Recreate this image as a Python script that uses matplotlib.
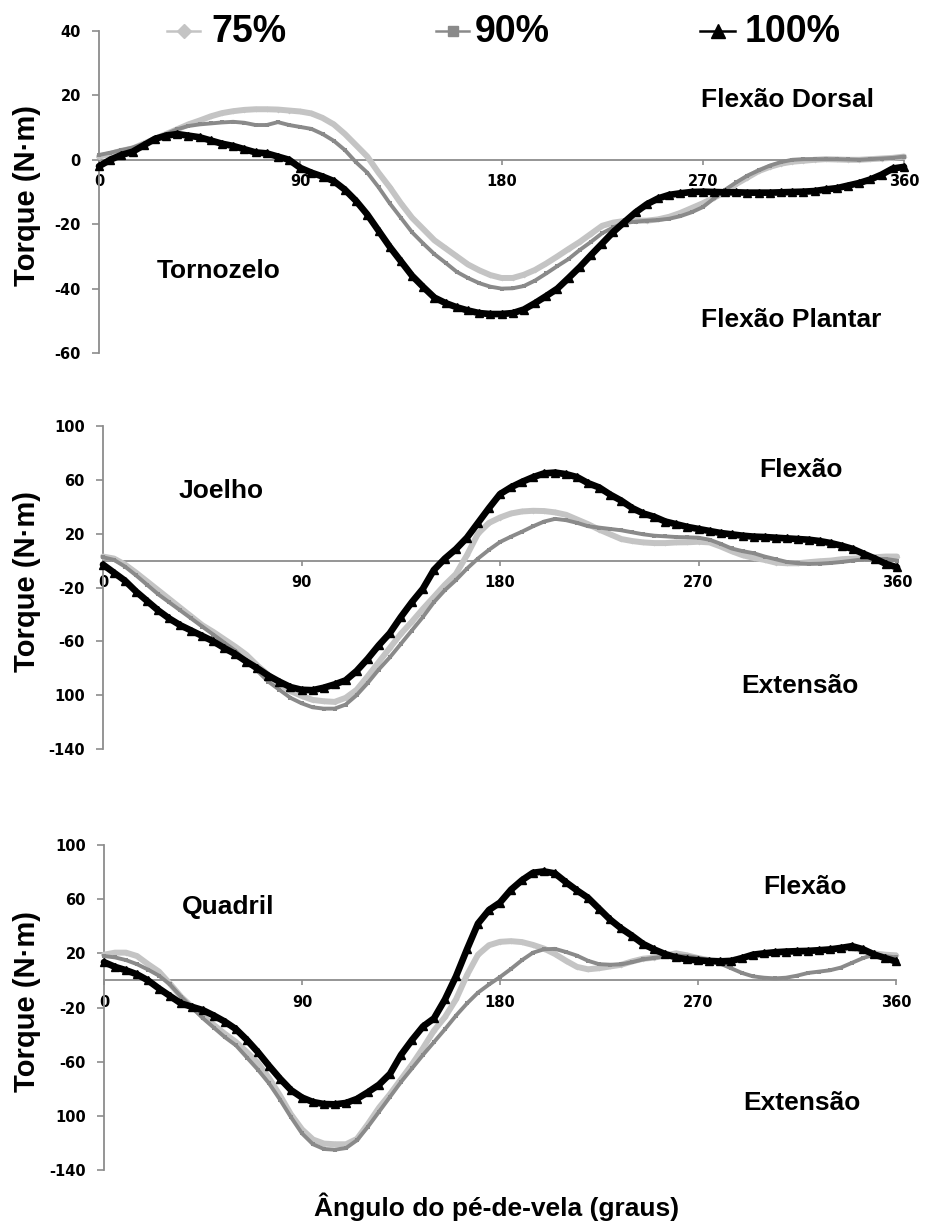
import numpy as np
import matplotlib
matplotlib.use("Agg")
import matplotlib.pyplot as plt
from matplotlib.ticker import FixedLocator, FixedFormatter

# Crank angle (degrees), sampled every 5 degrees
crank_angle = np.arange(0, 361, 5)

series_labels = ["75%", "90%", "100%"]

# Ankle joint torque (N·m)
ankle_75 = [1, 1.8, 2.8, 3.5, 5, 6.5, 8, 9.5, 11, 12.2,
            13.5, 14.5, 15.1, 15.5, 15.7, 15.7, 15.6, 15.3, 15, 14.4,
            13, 11, 8, 4.5, 1, -4, -8.5, -13.5, -18, -21.5,
            -25, -27.5, -30, -32.5, -34.3, -35.8, -36.7, -36.7, -35.7, -34.2,
            -32.2, -30, -27.7, -25.5, -23, -20.5, -19.5, -19, -18.9, -18.9,
            -18.5, -17.7, -16.5, -15, -13.5, -11.8, -10, -7.5, -5.5, -3.5,
            -2.2, -1.2, -0.6, -0.3, 0, 0.2, 0.1, 0, 0, 0.2,
            0.4, 0.6, 1]
ankle_90 = [1.5, 2.2, 3, 3.8, 5, 6.5, 8, 9.5, 10.5, 11,
            11.3, 11.6, 11.8, 11.5, 10.8, 10.8, 11.7, 10.8, 10.2, 9.6,
            8, 5.9, 3, -0.8, -4, -8.5, -13.5, -18, -22.5, -26,
            -29.3, -32, -34.8, -36.7, -38.3, -39.4, -40, -39.9, -39.2, -37.5,
            -35.3, -33, -30.8, -28, -25.5, -22.8, -21, -19.6, -19.2, -18.9,
            -18.7, -18.3, -17.5, -16.3, -14.7, -12, -9.3, -7, -4.9, -3.3,
            -1.8, -0.7, 0, 0.2, 0.2, 0.2, 0.2, 0.1, 0, 0.2,
            0.4, 0.6, 1]
ankle_100 = [-2, 0, 1.5, 2.5, 4.5, 6.5, 7.5, 8, 7.5, 7,
             6, 5, 4.3, 3.3, 2.3, 2, 1, 0, -2.5, -4,
             -5.2, -6.6, -9.3, -12.8, -17, -22, -27, -31.5, -36, -39.5,
             -42.8, -44.5, -45.8, -46.8, -47.6, -47.9, -47.9, -47.6, -46.5, -44.5,
             -42.3, -40, -36.7, -33.3, -29.6, -26, -22.4, -19.3, -16.3, -13.8,
             -12, -10.9, -10.4, -10, -9.9, -10, -10.1, -10.1, -10.2, -10.2,
             -10.2, -10.1, -10, -9.9, -9.7, -9.2, -8.8, -8, -7.2, -6.1,
             -4.6, -2.7, -2.2]

# Knee joint torque (N·m)
knee_75 = [3, 1.5, -3, -9, -15.5, -22, -28.5, -35, -41.5, -48,
           -53, -58.5, -64, -70, -78, -85, -91.5, -97, -100.5, -103.5,
           -104.5, -105, -102, -96, -86, -75.5, -65, -54.5, -45.5, -36,
           -27, -18, -10, 4, 20, 28, 32, 35, 36.5, 37,
           36.8, 35.8, 34, 30.5, 27, 23, 19.5, 16, 14.5, 13.5,
           13, 13, 13.5, 13.6, 14, 13.5, 10.5, 7, 4, 2,
           0.5, -1.5, -2, -2, -1.2, -0.5, 0, 1, 1.5, 2,
           2.5, 3, 3]
knee_90 = [2.5, 0.5, -4.5, -11, -18, -25, -31, -37, -43, -49,
           -55, -61, -67, -75, -82, -90, -96, -102, -106, -109,
           -110, -110, -107, -100, -91, -81, -72, -62, -52, -42,
           -31, -22, -14.5, -6, 1.5, 8, 13.8, 17.8, 21.5, 25.5,
           29, 31, 30, 28, 25.5, 24.5, 23.5, 22.5, 21, 19.5,
           18.5, 18, 17.5, 17.3, 17, 15.5, 12.5, 9, 7, 5.5,
           3, 1, -1, -2, -2.5, -2.3, -1.8, -1, 0, 1,
           1.2, 1.2, 0]
knee_100 = [-3, -9, -15, -23, -30, -37, -43, -48, -52, -56,
            -60, -65, -69.5, -75, -80, -85.5, -90, -94, -96, -96.3,
            -94.5, -92, -89, -82, -73, -63, -54, -42, -31, -21,
            -7, 1.5, 8.5, 17, 28, 39, 49.4, 54.5, 58.5, 62,
            64.8, 65.4, 64.2, 62, 57.5, 54.3, 49, 44.5, 39, 35,
            32.5, 29, 27, 25, 23.5, 22, 20.5, 19.5, 18.5, 17.8,
            17.5, 17, 16.5, 16, 15.5, 14.5, 13, 11, 8.6, 5,
            1.5, -2.5, -5]

# Hip joint torque (N·m)
hip_75 = [19, 20.5, 20.5, 18, 12, 6.5, -2.5, -12, -19.5, -26.5,
          -33, -39.5, -45.5, -53, -61, -72, -85, -99, -110, -117.5,
          -120.5, -121, -121, -117, -106, -94, -84, -73, -62, -50,
          -37, -27, -14, 4, 19, 26, 28.5, 29, 28.3, 26.2,
          23.5, 19.5, 14.5, 10, 8.2, 9, 10.3, 11.5, 14, 16,
          16.8, 18.5, 20, 18.5, 16.5, 15, 14.5, 15, 16.5, 18.5,
          19.5, 20.3, 21, 21.3, 21.5, 22, 22.5, 23.5, 24, 22,
          20, 19, 18.5]
hip_90 = [18, 17, 15, 12, 8, 3.5, -3, -12, -20, -28,
          -35, -42, -48, -57, -66, -76, -88, -101, -113, -121,
          -124.5, -125, -123.8, -118, -108, -97, -86, -75, -65, -55,
          -45.5, -36, -26, -17, -9, -3, 2.5, 8.5, 15, 20.5,
          23, 23.3, 21, 18.3, 14.5, 12, 11.6, 11.8, 13.5, 15.5,
          16.7, 17.5, 18.5, 18, 16.8, 14.8, 12.5, 9, 5.5, 3,
          2, 1.5, 2, 3.5, 5.5, 6.5, 7.5, 9.5, 13, 16.5,
          19, 18, 17]
hip_100 = [13.5, 10, 7.5, 4.5, 0, -6, -11.5, -17, -19.5, -22,
           -26, -30.5, -36, -44, -53, -63, -72.5, -81, -86.5, -89.8,
           -91.3, -91.5, -90.5, -87.5, -82.5, -77, -69, -55, -44, -34,
           -28, -14, 3, 23, 42, 52, 57.5, 67, 74, 79.5,
           80.5, 79, 72.5, 66.5, 61, 53, 45, 38.5, 33, 27,
           22.9, 19.5, 17, 15.5, 14.8, 14.3, 14, 14.3, 16.5, 19,
           20, 20.8, 21.3, 21.6, 21.8, 22.3, 22.9, 24, 25.3, 23,
           19.2, 16.5, 14]

x_ticks = [0, 90, 180, 270, 360]
x_tick_labels = ["0", "90", "180", "270", "360"]
ankle_ticks = [-60, -40, -20, 0, 20, 40]
ankle_tick_labels = ["-60", "-40", "-20", "0", "20", "40"]
kh_ticks = [-140, -100, -60, -20, 20, 60, 100]
kh_tick_labels = ["-140", "100", "-60", "-20", "20", "60", "100"]

joint_names = ["Tornozelo", "Joelho", "Quadril"]
upper_notes = ["Flexão Dorsal", "Flexão", "Flexão"]
lower_notes = ["Flexão Plantar", "Extensão", "Extensão"]

W, H = 925, 1223
fig = plt.figure(figsize=(W / 100, H / 100), dpi=100)
fig.patch.set_facecolor("white")

BOLD = dict(family=["Liberation Sans", "DejaVu Sans"], weight="bold")
AXIS_GRAY = "#8c8c8c"

styles = [
    dict(color="#c4c4c4", lw=4.3, marker="D", ms=3.0, mew=0, zorder=3),
    dict(color="#8a8a8a", lw=2.8, marker="s", ms=2.2, mew=0, zorder=4),
    dict(color="#000000", lw=4.8, marker="^", ms=5.5, mew=1.0, zorder=5),
]


def px_axes(left, right, top, bottom):
    return [left / W, 1 - bottom / H, (right - left) / W, (bottom - top) / H]


panels = [
    dict(rect=px_axes(99, 904, 31, 353), ylim=(-60, 40), ticks=ankle_ticks,
         labels=ankle_tick_labels, data=[ankle_75, ankle_90, ankle_100],
         name_xy=(53.7, -34.6), up_xy=(307.7, 18.5), low_xy=(309.5, -49.8),
         ylab_y=0.49),
    dict(rect=px_axes(103, 897, 426, 749), ylim=(-140, 100), ticks=kh_ticks,
         labels=kh_tick_labels, data=[knee_75, knee_90, knee_100],
         name_xy=(53.5, 51.9), up_xy=(316.4, 67.4), low_xy=(316.0, -93.3),
         ylab_y=0.52),
    dict(rect=px_axes(104, 896, 845, 1170), ylim=(-140, 100), ticks=kh_ticks,
         labels=kh_tick_labels, data=[hip_75, hip_90, hip_100],
         name_xy=(56.4, 53.9), up_xy=(318.6, 68.7), low_xy=(317.3, -90.8),
         ylab_y=0.517),
]

for i, p in enumerate(panels):
    ax = fig.add_axes(p["rect"])
    ax.set_facecolor("none")
    ax.set_xlim(0, 360)
    ax.set_ylim(*p["ylim"])

    for vals, st, lab in zip(p["data"], styles, series_labels):
        ax.plot(crank_angle, vals, color=st["color"], lw=st["lw"],
                marker=st["marker"], ms=st["ms"], mew=st["mew"],
                mec=st["color"], mfc=st["color"], zorder=st["zorder"],
                clip_on=False, solid_joinstyle="round",
                solid_capstyle="round", label=lab)

    for side in ("top", "right"):
        ax.spines[side].set_visible(False)
    ax.spines["bottom"].set_position(("data", 0))
    ax.spines["bottom"].set_color(AXIS_GRAY)
    ax.spines["bottom"].set_linewidth(1.3)
    ax.spines["bottom"].set_zorder(1)
    ax.spines["left"].set_color(AXIS_GRAY)
    ax.spines["left"].set_linewidth(1.3)

    ax.xaxis.set_major_locator(FixedLocator(x_ticks))
    ax.xaxis.set_major_formatter(FixedFormatter(x_tick_labels))
    ax.yaxis.set_major_locator(FixedLocator(p["ticks"]))
    ax.yaxis.set_major_formatter(FixedFormatter(p["labels"]))
    ax.tick_params(axis="x", direction="out", length=3.5, width=1.2,
                   color=AXIS_GRAY, pad=7)
    ax.tick_params(axis="y", direction="out", length=5, width=1.2,
                   color=AXIS_GRAY, pad=8)
    for t in ax.get_xticklabels() + ax.get_yticklabels():
        t.set_fontfamily("DejaVu Sans")
        t.set_fontweight("bold")
        t.set_fontsize(10.5)

    ax.set_ylabel("Torque (N·m)", fontsize=21, ha="center", va="center",
                  **BOLD)
    x0 = p["rect"][0] * W
    wpx = p["rect"][2] * W
    ax.yaxis.set_label_coords((27 - x0) / wpx, p["ylab_y"])

    ax.text(*p["name_xy"], joint_names[i], fontsize=19, ha="center",
            va="center", **BOLD)
    ax.text(*p["up_xy"], upper_notes[i], fontsize=19, ha="center",
            va="center", **BOLD)
    ax.text(*p["low_xy"], lower_notes[i], fontsize=19, ha="center",
            va="center", **BOLD)

# Legend row across the top, in pixel coordinates
lg = fig.add_axes([0, 0, 1, 1])
lg.set_xlim(0, W)
lg.set_ylim(H, 0)
lg.axis("off")
lg.patch.set_alpha(0)
handle_x = [(167, 200), (436, 469), (700, 735)]
text_x = [211, 475, 745]
legend_y = 31
for (a, b), tx, st, lab in zip(handle_x, text_x, styles, series_labels):
    lg.plot([a, b], [legend_y, legend_y], color=st["color"], lw=1.8)
    lg.plot([(a + b) / 2], [legend_y], marker=st["marker"], ms=st["ms"] + 4.5,
            color=st["color"], mec=st["color"])
    lg.text(tx, legend_y + 1, lab, fontsize=27, ha="left", va="center", **BOLD)

fig.text(497 / W, 1 - 1207 / H, "Ângulo do pé-de-vela (graus)", fontsize=19,
         ha="center", va="center", **BOLD)

fig.savefig("out.png", dpi=100, facecolor="white")
